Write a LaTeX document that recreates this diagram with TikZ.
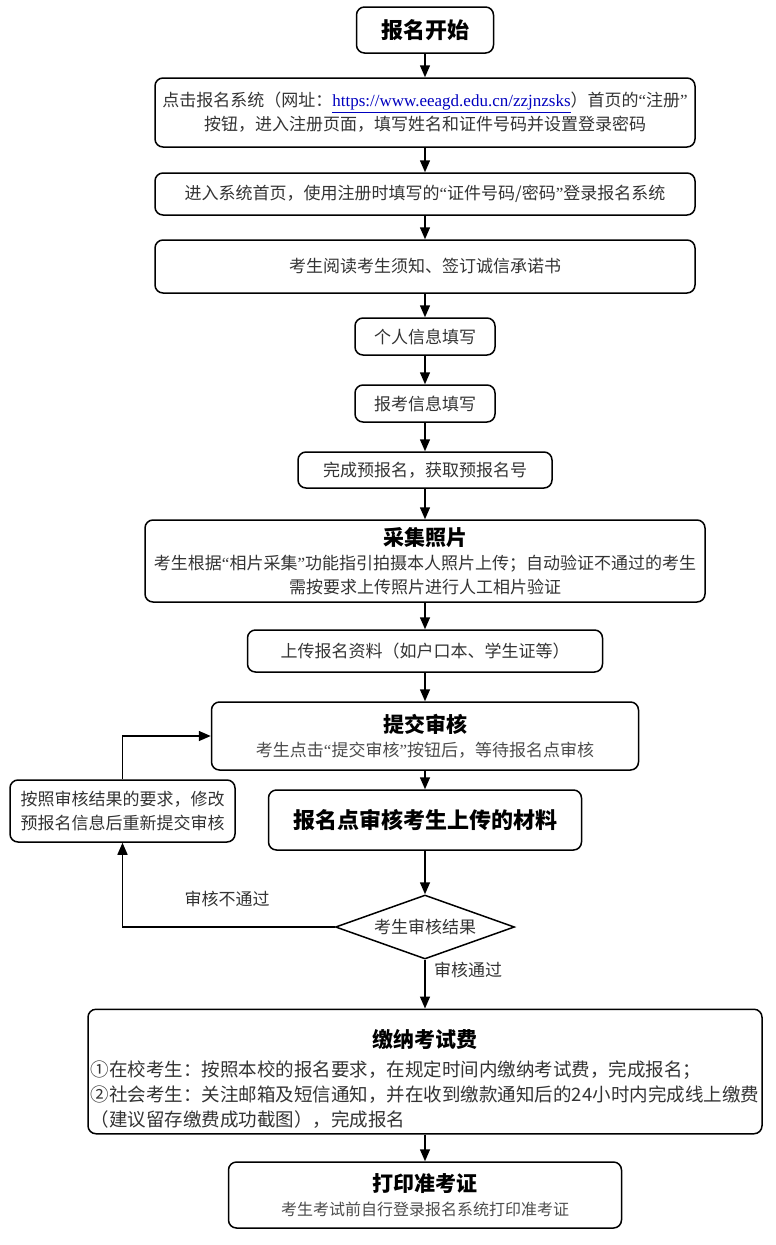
\documentclass[tikz,border=0pt]{standalone}
\usepackage{fontspec}
\setmainfont{Noto Sans CJK SC}
\newfontfamily\linkfont{Liberation Serif}
\usetikzlibrary{arrows.meta,shapes.geometric}

\tikzset{
  stepbox/.style={draw, line width=1.5pt, rounded corners=8pt, align=center,
    inner sep=0pt, text=black!80, font=\fontsize{17}{24}\selectfont},
  choice/.style={draw, diamond, aspect=2.8, line width=1.5pt, inner sep=0pt, text=black!80,
    font=\fontsize{17}{24}\selectfont, minimum width=179pt, minimum height=64pt},
  flow/.style={-{Triangle[length=12pt,width=10pt]}, line width=1.5pt},
  note/.style={text=black!80, font=\fontsize{17}{24}\selectfont}
}
\newcommand{\boxtitle}[1]{{\fontsize{21}{26}\selectfont\bfseries\color{black}#1}}
\newcommand{\qopen}{{\linkfont “}}
\newcommand{\qclose}{{\linkfont ”}}

\begin{document}
\begin{tikzpicture}[x=1pt,y=-1pt]
        \useasboundingbox (0,0) rectangle (776,1245);

        % Steps from top to bottom
        \node[stepbox, minimum width=137pt, minimum height=46pt] (start) at (425,30)
            {{\fontsize{22}{26}\selectfont\bfseries\color{black}报名开始}};
        \node[stepbox, minimum width=540pt, minimum height=69pt] (reg) at (425,112.5)
            {点击报名系统（网址：{\linkfont\color{blue!75!black}\underline{https://www.eeagd.edu.cn/zzjnzsks}}）首页的\qopen 注册\qclose\\
             按钮，进入注册页面，填写姓名和证件号码并设置登录密码};
        \node[stepbox, minimum width=540pt, minimum height=42pt] (login) at (425,194)
            {进入系统首页，使用注册时填写的\qopen 证件号码/密码\qclose 登录报名系统};
        \node[stepbox, minimum width=540pt, minimum height=53pt] (read) at (425,266.5)
            {考生阅读考生须知、签订诚信承诺书};
        \node[stepbox, minimum width=140pt, minimum height=37pt] (info) at (425,336.5)
            {个人信息填写};
        \node[stepbox, minimum width=140pt, minimum height=37pt] (exam) at (425,403.5)
            {报考信息填写};
        \node[stepbox, minimum width=254pt, minimum height=36pt] (pre) at (425,470)
            {完成预报名，获取预报名号};
        \node[stepbox, minimum width=560pt, minimum height=82pt] (photo) at (425,561)
            {\boxtitle{采集照片}\\
             考生根据\qopen 相片采集\qclose 功能指引拍摄本人照片上传；自动验证不通过的考生\\
             需按要求上传照片进行人工相片验证};
        \node[stepbox, minimum width=355pt, minimum height=42pt] (upload) at (425,651)
            {上传报名资料（如户口本、学生证等）};
        \node[stepbox, minimum width=427pt, minimum height=68pt] (submit) at (425,736)
            {\boxtitle{提交审核}\\
             {\color{black!70}考生点击\qopen 提交审核\qclose 按钮后，等待报名点审核}};
        \node[stepbox, minimum width=313pt, minimum height=60pt] (check) at (425,820)
            {{\fontsize{22}{26}\selectfont\bfseries\color{black}报名点审核考生上传的材料}};
        \node[choice] (result) at (425,927) {考生审核结果};
        \node[stepbox, minimum width=674pt, minimum height=117pt,
              font=\fontsize{18.5}{25}\selectfont] (fee) at (425,1071.5)
            {\begin{tabular}{@{}l@{}}
             \multicolumn{1}{@{}c@{}}{\rule{0pt}{38pt}\boxtitle{缴纳考试费}}\\[4pt]
             ①在校考生：按照本校的报名要求，在规定时间内缴纳考试费，完成报名；\\
             ②社会考生：关注邮箱及短信通知，并在收到缴款通知后的24小时内完成线上缴费\\
             （建议留存缴费成功截图），完成报名
             \end{tabular}};
        \node[stepbox, minimum width=393pt, minimum height=66pt] (print) at (425,1195)
            {\boxtitle{打印准考证}\\
             {\fontsize{16}{22}\selectfont\color{black!70}考生考试前自行登录报名系统打印准考证}};

        % Box for a failed check
        \node[stepbox, minimum width=225pt, minimum height=62pt] (fix) at (122.5,811)
            {按照审核结果的要求，修改\\预报名信息后重新提交审核};

        % Labels of the two outcomes
        \node[note] (nopass) at (227,899) {审核不通过};
        \node[note] (pass) at (468,970) {审核通过};

        % Draw the arrows
        \draw[flow] (start) -- (reg);
        \draw[flow] (reg) -- (login);
        \draw[flow] (login) -- (read);
        \draw[flow] (read) -- (info);
        \draw[flow] (info) -- (exam);
        \draw[flow] (exam) -- (pre);
        \draw[flow] (pre) -- (photo);
        \draw[flow] (photo) -- (upload);
        \draw[flow] (upload) -- (submit);
        \draw[flow] (submit) -- (check);
        \draw[flow] (check) -- (result);
        \draw[flow] (result) -- (fee);
        \draw[flow] (fee) -- (print);
        % loop back
        \draw[flow] (result.west) -| (fix.south);
        \draw[flow] (fix.north) |- (submit.west);
    \end{tikzpicture}
\end{document}
